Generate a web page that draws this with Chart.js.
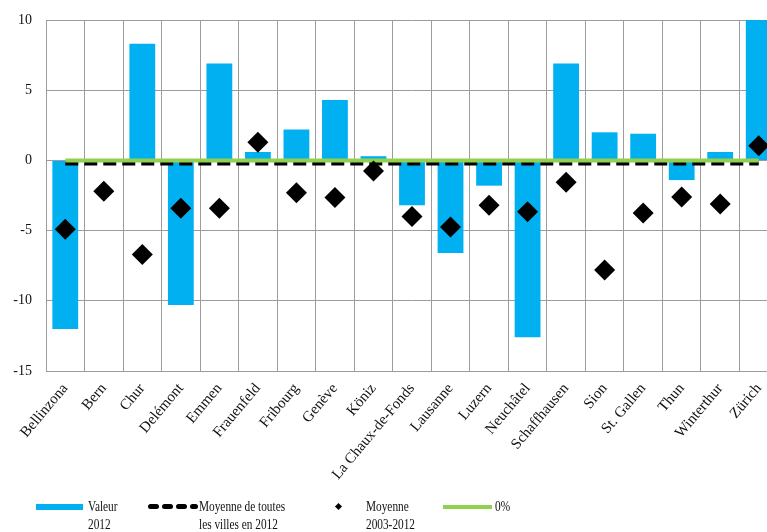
<!DOCTYPE html>
<html>
<head>
<meta charset="utf-8">
<script src="https://cdn.jsdelivr.net/npm/chart.js@4/dist/chart.umd.min.js"></script>
<style>
  html, body { margin: 0; padding: 0; background: #fff; overflow: hidden; }
  #wrap { position: relative; width: 790px; height: 532px; }
  #chart { position: absolute; left: 0; top: 0; }
  .lg { position: absolute; font-family: "Liberation Serif", serif; font-size: 14.5px; line-height: 18px; color: #111;
        transform: scaleX(0.78); transform-origin: left top; white-space: nowrap; }
  .sw { position: absolute; }
</style>
</head>
<body>
<div id="wrap">
  <canvas id="chart" width="790" height="532"></canvas>
  <!-- legend, drawn as html -->
  <div class="sw" style="left:36px;top:504px;width:47px;height:6px;background:#00B0F0"></div>
  <div class="lg" style="left:88px;top:497px">Valeur<br>2012</div>
  <div class="sw" style="left:148px;top:504px;width:11px;height:5px;background:#000;border-radius:3px"></div>
  <div class="sw" style="left:162px;top:504px;width:11px;height:5px;background:#000;border-radius:3px"></div>
  <div class="sw" style="left:176px;top:504px;width:11px;height:5px;background:#000;border-radius:3px"></div>
  <div class="sw" style="left:190px;top:504px;width:8px;height:5px;background:#000;border-radius:3px"></div>
  <div class="lg" style="left:199px;top:497px">Moyenne de toutes<br>les villes en 2012</div>
  <div class="sw" style="left:336px;top:504px;width:5px;height:5px;background:#000;transform:rotate(45deg)"></div>
  <div class="lg" style="left:366px;top:497px">Moyenne<br>2003-2012</div>
  <div class="sw" style="left:443px;top:505px;width:49px;height:4px;background:#92D050"></div>
  <div class="lg" style="left:495px;top:497px">0%</div>
</div>
<script>
const villes = ['Bellinzona', 'Bern', 'Chur', 'Delémont', 'Emmen', 'Frauenfeld', 'Fribourg', 'Genève', 'Köniz',
  'La Chaux-de-Fonds', 'Lausanne', 'Luzern', 'Neuchâtel', 'Schaffhausen', 'Sion', 'St. Gallen', 'Thun',
  'Winterthur', 'Zürich'];
const valeur2012 = [-12.0, 0, 8.3, -10.3, 6.9, 0.6, 2.2, 4.3, 0.3, -3.2, -6.6, -1.8, -12.6, 6.9, 2.0, 1.9, -1.4, 0.6, 10.8];
const moyenneVilles2012 = [-0.2, -0.2, -0.2, -0.2, -0.2, -0.2, -0.2, -0.2, -0.2, -0.2, -0.2, -0.2, -0.2, -0.2, -0.2, -0.2, -0.2, -0.2, -0.2];
const moyenne2003_2012 = [-4.9, -2.2, -6.7, -3.4, -3.4, 1.3, -2.3, -2.65, -0.75, -4.0, -4.75, -3.2, -3.65, -1.55, -7.8, -3.75, -2.6, -3.1, 1.05];
const zeroPct = [0, 0, 0, 0, 0, 0, 0, 0, 0, 0, 0, 0, 0, 0, 0, 0, 0, 0, 0];
const yTicks = [10, 5, 0, -5, -10, -15];

const gridColor = '#9C9C9C';
const tickFont = { family: 'Liberation Serif', size: 14 };

new Chart(document.getElementById('chart'), {
  type: 'bar',
  data: {
    labels: villes,
    datasets: [
      {
        type: 'bar', label: 'Valeur 2012', data: valeur2012,
        backgroundColor: '#00B0F0', borderWidth: 0,
        categoryPercentage: 1, barPercentage: 0.67, order: 3
      },
      {
        type: 'line', label: 'Moyenne de toutes les villes en 2012', data: moyenneVilles2012,
        borderColor: '#000', borderWidth: 4.5, borderDash: [13, 6], pointRadius: 0, fill: false, order: 2
      },
      {
        type: 'line', label: '0%', data: zeroPct,
        borderColor: '#92D050', borderWidth: 4, pointRadius: 0, fill: false, order: 1
      },
      {
        type: 'line', label: 'Moyenne 2003-2012', data: moyenne2003_2012,
        showLine: false, pointStyle: 'rectRot', pointRadius: 10.5,
        pointBackgroundColor: '#000', pointBorderWidth: 0, order: 0
      }
    ]
  },
  options: {
    responsive: false,
    animation: false,
    devicePixelRatio: 1,
    layout: { padding: { top: 20, left: 0, right: 12, bottom: 36 } },
    plugins: { legend: { display: false }, tooltip: { enabled: false } },
    scales: {
      x: {
        grid: { color: gridColor, lineWidth: 1, drawTicks: false, offset: true },
        border: { color: gridColor },
        ticks: { font: { family: 'Liberation Serif', size: 15 }, color: '#111', minRotation: 50, maxRotation: 50, padding: 9, autoSkip: false },
        afterFit: (s) => { s.height = 125; s.paddingLeft = 0; s.paddingRight = 0; }
      },
      y: {
        min: -15, max: 10,
        grid: { color: gridColor, lineWidth: 1, drawTicks: false },
        border: { color: gridColor },
        afterBuildTicks: (s) => { s.ticks = yTicks.map(v => ({ value: v })); },
        ticks: { font: tickFont, color: '#111', padding: 14 },
        afterFit: (s) => { s.width = 46; s.paddingTop = 0; s.paddingBottom = 0; }
      }
    }
  }
});
</script>
</body>
</html>
